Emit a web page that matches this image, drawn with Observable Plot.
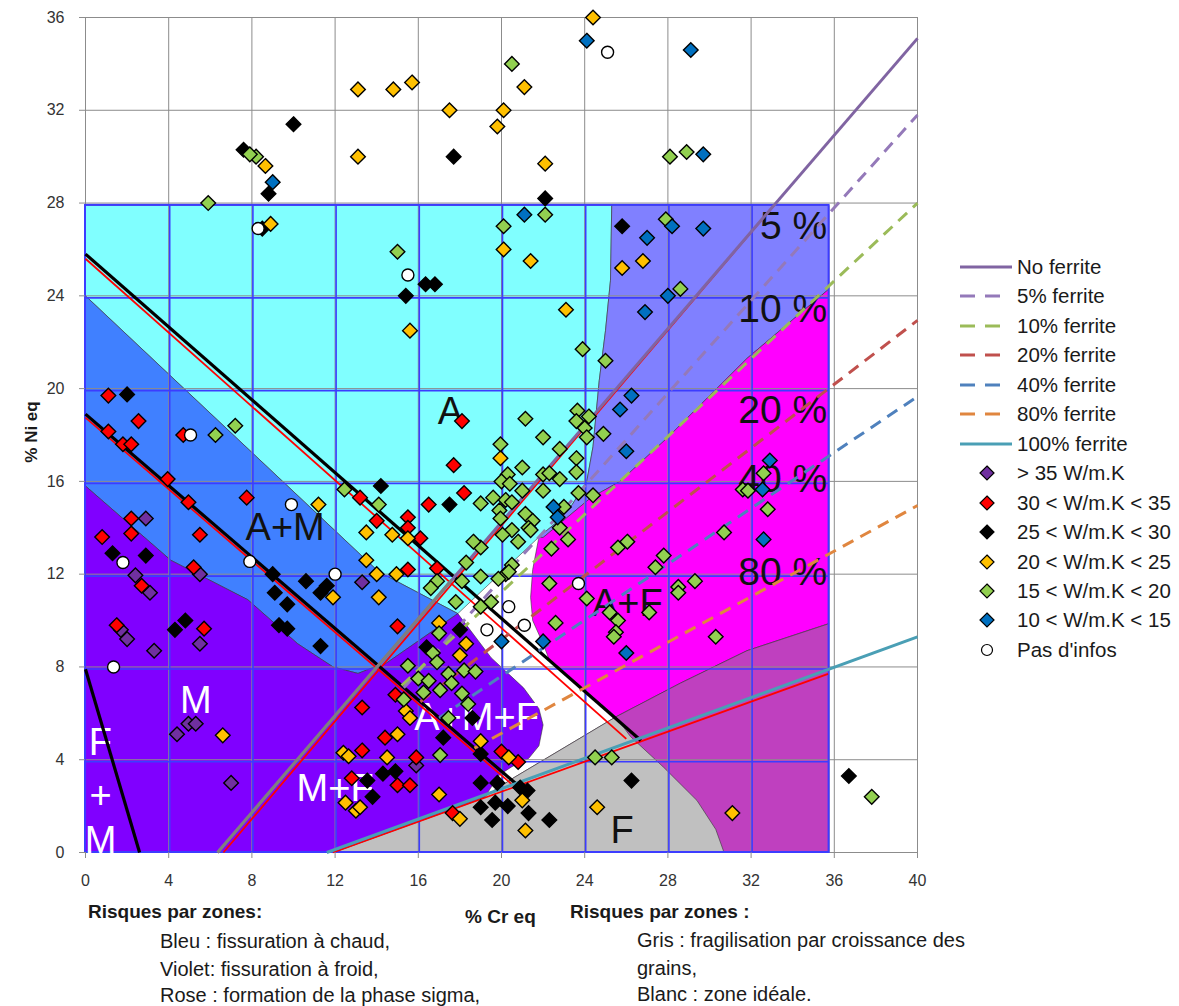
<!DOCTYPE html>
<html><head><meta charset="utf-8">
<script src="https://cdn.jsdelivr.net/npm/d3@7"></script>
<script src="https://cdn.jsdelivr.net/npm/@observablehq/plot@0.6"></script>
<style>
body{margin:0;background:#fff;font-family:"Liberation Sans",Arial,sans-serif;color:#1a1a1a;}
#wrap{position:relative;width:1179px;height:1006px;overflow:hidden;}
#wrap svg{position:absolute;left:0;top:0;}
.t{position:absolute;white-space:nowrap;font-size:20px;line-height:20px;}
.b{font-weight:bold;}
</style></head><body><div id="wrap"></div>
<script>
// ---------- axes ----------
const xTicks = [0,4,8,12,16,20,24,28,32,36,40];
const yTicks = [0,4,8,12,16,20,24,28,32,36];
const boxXTicks = [4,8,12,16,20,24,28,32];
const boxYTicks = [4,8,12,16,20,24];
const boxRight = 35.75, boxTop = 27.9;

// ---------- zones (polygons, % Cr eq / % Ni eq) ----------
const cyanZone = [[0,27.9],[25.3,27.9],[25.24,24.67],[25.0,22.5],[24.7,20.35],[24.4,17.5],[24.1,16.0],[23.4,15.0],[22.6,14.2],[21.8,13.6],[17.9,10.3],[14.1,12.1],[0,24]];
const lilacZone = [[25.3,27.9],[35.75,27.9],[35.75,24.3],[31.8,21.3],[28.0,17.9],[25.7,16.0],[24.3,15.3],[22.0,13.58],[21.8,13.6],[22.6,14.2],[23.4,15.0],[24.1,16.0],[24.4,17.5],[24.7,20.35],[25.0,22.5],[25.24,24.67]];
const magentaZone = [[21.8,13.6],[22.0,13.58],[24.3,15.3],[25.7,16.0],[28.0,17.9],[31.8,21.3],[35.75,24.3],[35.75,9.87],[31.8,8.7],[28.6,7.3],[25.5,5.85],[22.3,8.3],[22.0,9.0],[21.5,10.0],[21.4,11.0],[21.5,12.2]];
const mauveZone = [[19.0,2.3],[20.6,3.23],[25.5,5.85],[28.6,7.3],[31.8,8.7],[35.75,9.87],[35.75,0],[19.0,0]];
const grayZone = [[11.9,0],[19.0,2.3],[20.6,3.23],[25.5,5.85],[26.2,5.0],[27.8,3.67],[29.4,2.24],[30.3,1.0],[30.7,0]];
const blueZone = [[0,24],[14.1,12.1],[17.9,10.3],[14.2,8.0],[13.85,7.98],[13.1,7.72],[11.9,8.0],[10.2,9.0],[7.8,10.9],[4.1,12.6],[0,15.8]];
const violetZone = [[0,0],[0,15.8],[4.1,12.6],[7.8,10.9],[10.2,9.0],[11.9,8.0],[13.1,7.72],[13.85,7.98],[14.2,8.0],[17.9,10.3],[19.5,8.4],[21.06,7.1],[21.8,6.2],[22.0,5.5],[21.8,4.6],[21.3,4.05],[20.5,3.7],[19.9,3.35],[19.2,2.4],[11.9,0]];

// ---------- lines ----------
const blackLines = [{x1:0,y1:25.8,x2:26.7,y2:4.83},{x1:0,y1:18.9,x2:21.3,y2:2.5},{x1:0,y1:7.9,x2:2.6,y2:0}];
const redLines = [{x1:0,y1:25.6,x2:26.0,y2:4.9},{x1:0,y1:18.75,x2:21.2,y2:2.4},{x1:6.63,y1:0,x2:33.1,y2:27.9},{x1:11.9,y1:0,x2:35.7,y2:7.7}];
const greyLines = [{x1:6.35,y1:0,x2:17.6,y2:11.75}];
const ferriteNames = ["No ferrite","5% ferrite","10% ferrite","20% ferrite","40% ferrite","80% ferrite","100% ferrite"];
const ferriteX1 = [6.35,15.3,15.2,16.1,17.0,18.7,11.6];
const ferriteY1 = [0,7.1,7.2,6.5,5.8,4.5,0];
const ferriteX2 = [40,40,40,40,40,40,40];
const ferriteY2 = [35.1,31.8,28.0,22.94,19.66,14.96,9.3];

// ---------- points ----------
const seriesNames = ["> 35 W/m.K","30 < W/m.K < 35","25 < W/m.K < 30","20 < W/m.K < 25","15 < W/m.K < 20","10 < W/m.K < 15","Pas d'infos"];
const purplePts = [[2.9,14.4],[2.4,11.95],[3.1,11.2],[2.0,9.2],[3.3,8.7],[5.5,9.0],[5.5,12.0],[4.4,5.1],[4.95,5.55],[5.3,5.55],[7.0,3.0],[13.3,11.65],[15.9,3.75],[1.7,9.6]];
const redPts = [[1.1,19.7],[2.55,18.6],[1.1,18.15],[1.8,17.6],[2.2,17.6],[4.7,18.0],[3.95,16.1],[4.95,15.1],[7.75,15.3],[2.2,14.4],[2.2,13.75],[0.8,13.6],[5.5,13.7],[5.2,12.3],[2.7,11.5],[1.5,9.8],[5.7,9.65],
 [13.2,15.3],[14.0,14.3],[15.5,14.45],[15.5,14.0],[16.1,13.55],[15.5,12.2],[16.9,12.25],[16.5,15.0],[18.2,15.5],[17.7,16.7],[18.1,18.6],[15.0,9.75],[13.3,6.25],[14.9,6.8],[14.4,4.95],[13.3,4.4],[15.9,4.1],[12.8,3.2],[15.0,2.9],[15.6,2.9],[17.65,1.7],[20.0,4.35],[20.8,3.9]];
const blackPts = [[10.0,31.4],[7.6,30.3],[17.7,30.0],[8.8,28.4],[22.1,28.2],[8.5,26.9],[25.8,27.0],[16.35,24.5],[16.8,24.5],[15.4,24.0],[2.0,19.75],[14.2,15.8],[17.5,15.0],[1.3,12.9],[2.9,12.8],[9.0,12.0],[10.6,11.7],[9.1,11.2],[11.3,11.2],[11.6,11.5],[9.7,10.7],[9.3,9.8],[9.7,9.65],[11.3,8.9],[4.3,9.6],[4.8,10.0],[18.0,9.6],[16.4,8.85],[18.6,5.8],[17.2,4.95],[19.0,4.25],[14.3,3.4],[14.9,3.5],[13.55,3.1],[13.8,2.4],[19.0,3.0],[19.8,3.0],[19.7,2.15],[19.0,1.95],[19.55,1.4],[20.9,2.8],[21.25,2.67],[20.3,2.0],[21.3,1.7],[22.3,1.4],[26.25,3.1],[36.7,3.3]];
const orangePts = [[13.1,32.9],[14.8,32.9],[15.7,33.2],[17.5,32.0],[19.8,31.3],[20.1,32.0],[21.1,33.0],[24.4,36.0],[13.1,30.0],[22.1,29.7],[8.65,29.6],[8.9,27.1],
 [20.1,26.0],[21.4,25.5],[25.8,25.2],[26.8,25.5],[15.6,22.5],[23.1,23.4],[11.2,15.0],[19.95,17.0],[13.5,13.8],[14.75,13.7],[15.5,13.55],[13.5,12.6],[14.0,12.0],[14.95,12.0],[11.9,11.0],[14.1,11.0],[17.0,9.9],[18.3,9.0],[18.0,8.5],[15.4,6.1],[15.6,5.8],[15.0,5.1],[19.0,4.8],[12.4,4.3],[12.65,4.15],[14.5,4.1],[17.0,2.5],[12.5,2.15],[13.0,1.8],[13.2,1.95],[18.0,1.45],[20.35,4.1],[21.0,2.25],[21.15,0.95],[24.6,1.95],[31.1,1.7],[6.6,5.05]];
const greenPts = [[8.2,30.0],[7.9,30.1],[5.9,28.0],[20.5,34.0],[28.1,30.0],[28.9,30.2],
 [22.1,27.5],[20.1,27.0],[27.9,27.3],[28.6,24.3],[15.0,25.9],[23.9,21.7],[25.0,21.2],[6.25,18.0],[7.2,18.4],[12.45,15.65],[14.1,15.0],[21.15,18.7],[19.95,17.6],[22.0,17.9],
 [23.65,19.05],[24.2,18.8],[23.6,18.6],[24.0,18.3],[24.1,17.9],[24.9,18.05],[22.8,17.4],[23.6,17.0],[23.6,16.4],[22.8,16.1],[22.0,16.3],[22.3,16.35],[21.0,16.6],[20.3,16.3],[20.0,16.0],[20.4,15.9],[21.0,15.6],[22.0,15.6],[23.7,15.5],[24.4,15.4],
 [19.6,15.3],[20.2,15.2],[20.5,15.1],[19.0,15.05],[19.9,14.75],[19.95,14.4],[21.15,14.6],[21.5,14.3],[21.3,14.0],[23.0,14.9],[22.8,14.0],[20.5,13.9],[20.8,13.4],[20.05,13.7],[19.0,13.15],[23.2,13.5],[22.4,13.1],[20.5,12.4],[20.2,12.0],
 [18.65,13.4],[18.3,12.5],[19.0,11.9],[18.1,11.7],[16.9,11.7],[16.6,11.4],[17.8,10.8],[19.0,10.6],[19.5,10.8],[19.85,11.8],[20.35,12.1],[21.4,13.9],[22.3,11.6],[22.6,9.9],[24.1,10.95],[25.2,10.35],[25.6,10.0],[25.5,9.5],[25.4,9.3],[27.1,10.35],[28.5,11.45],[28.5,11.2],[29.3,11.7],[30.3,9.3],[27.4,12.3],[27.8,12.8],[25.6,13.15],[26.05,13.4],[30.7,13.8],[32.6,16.35],[31.6,15.65],[31.85,15.6],[32.8,14.8],
 [17.0,9.45],[16.7,8.6],[15.5,8.05],[16.0,7.5],[16.9,8.2],[17.45,7.7],[18.2,7.85],[18.75,7.8],[16.5,7.4],[17.05,7.0],[16.25,6.9],[17.6,7.3],[18.1,6.85],[18.4,6.4],[15.3,6.6],[17.45,5.8],[17.05,4.2],[24.5,4.1],[25.3,4.1],[37.8,2.4]];
const bluePts = [[9.0,28.9],[24.1,35.0],[29.1,34.6],[29.7,30.1],[21.1,27.5],[28.2,27.0],[29.7,26.9],[27.0,26.5],[28.0,24.0],[26.9,23.3],[26.25,19.7],[25.7,19.1],[26.0,17.3],[32.9,16.9],[32.55,15.65],[32.6,13.5],[22.5,14.9],[22.7,14.45],[20.0,9.1],[22.0,9.1],[26.0,8.6]];
const whitePts = [[25.1,34.5],[8.3,26.9],[15.5,24.9],[5.05,18.0],[9.9,15.0],[1.8,12.5],[7.9,12.55],[12.0,12.0],[1.35,8.0],[20.35,10.6],[19.3,9.6],[21.1,9.8],[23.7,11.6]];

// ---------- labels ----------
const darkLabels = [{t:"A",x:17.55,y:19.0},{t:"A+M",x:9.6,y:14.0},{t:"F",x:25.8,y:0.95},{t:"A+F",x:26.05,y:10.74}];
const lightLabels = [{t:"M",x:5.3,y:6.55},{t:"F",x:0.72,y:4.74},{t:"+",x:0.72,y:2.46},{t:"M",x:0.72,y:0.52},{t:"M+F",x:12.0,y:2.75},{t:"A+M+F",x:18.8,y:5.8}];
const pctLabels = [{t:"5 %",y:27.0},{t:"10 %",y:23.4},{t:"20 %",y:19.06},{t:"40 %",y:16.1},{t:"80 %",y:12.07}];

// ---------- styles ----------
const ferriteColors = ["#8064a2","#9479b9","#9bbb59","#c0504d","#4f81bd","#e0863f","#4a9fb5"];
const ferriteDashed = [false,true,true,true,true,true,false];
const seriesColors = ["#7030a0","#ff0000","#000000","#ffc000","#92d050","#0070c0","#ffffff"];
const seriesPts = [purplePts,redPts,blackPts,orangePts,greenPts,bluePts,whitePts];

const toXY = a => a.map(([x,y]) => ({x,y}));
const closed = a => toXY(a.concat([a[0]]));
const zone = (pts, color) => Plot.line(closed(pts), {x:"x", y:"y", fill:color, stroke:"#333", strokeWidth:0.8, strokeOpacity:0.75});

const ferriteSegs = ferriteNames.map((n,i) => ({n, x1:ferriteX1[i], y1:ferriteY1[i], x2:ferriteX2[i], y2:ferriteY2[i]}));
const seg = {x1:"x1",y1:"y1",x2:"x2",y2:"y2"};

const marks = [
  zone(cyanZone, "#80ffff"),
  zone(lilacZone, "#8080ff"),
  zone(magentaZone, "#ff00ff"),
  zone(mauveZone, "#bf40bf"),
  zone(grayZone, "#c0c0c0"),
  zone(blueZone, "#4080ff"),
  zone(violetZone, "#8000ff"),
  Plot.ruleX(xTicks, {stroke:"#8c8c8c", strokeWidth:1}),
  Plot.ruleY(yTicks, {stroke:"#8c8c8c", strokeWidth:1}),
  Plot.ruleX(boxXTicks, {y1:0, y2:boxTop, stroke:"#3c3cff", strokeWidth:1.6, dx:1}),
  Plot.ruleY(boxYTicks, {x1:0, x2:boxRight, stroke:"#3c3cff", strokeWidth:1.6, dy:2}),
  Plot.rect([{x1:0,x2:boxRight,y1:0,y2:boxTop}], {...seg, fill:"none", stroke:"#3c3cff", strokeWidth:2}),
  Plot.text(darkLabels, {x:"x", y:"y", text:"t", fill:"#111", fontSize:38}),
  Plot.text(lightLabels, {x:"x", y:"y", text:"t", fill:"#fff", fontSize:38}),
  Plot.text(pctLabels, {x:()=>boxRight, y:"y", text:"t", fill:"#111", fontSize:39, textAnchor:"end", dx:-2}),
  Plot.link(redLines, {...seg, stroke:"#ff0000", strokeWidth:1.8}),
  Plot.link(blackLines, {...seg, stroke:"#000", strokeWidth:3.2}),
  ...ferriteSegs.map((s,i) => Plot.link([s], {...seg, stroke:ferriteColors[i], strokeWidth:3, strokeDasharray: ferriteDashed[i] ? "12,8" : null})),
  Plot.link(greyLines, {...seg, stroke:"#7f7f7f", strokeWidth:3}),
  ...seriesPts.slice(0,6).map((pts,i) => Plot.dot(toXY(pts), {x:"x", y:"y", symbol:"diamond2", r:6.6, fill:seriesColors[i], stroke:"#000", strokeWidth:1.4})),
  Plot.dot(toXY(whitePts), {x:"x", y:"y", r:6, fill:"#fff", stroke:"#000", strokeWidth:1.4}),
  Plot.axisX({ticks:xTicks, tickSize:6, tickPadding:16, stroke:"#8c8c8c", fill:"#333", fontSize:16, label:null}),
  Plot.axisY({ticks:yTicks, tickSize:6, tickPadding:15, stroke:"#8c8c8c", fill:"#333", fontSize:16, label:null})
];

const chart = Plot.plot({
  width:1179, height:900,
  marginLeft:85, marginRight:262, marginTop:17, marginBottom:48,
  x:{domain:[0,40]}, y:{domain:[0,36]},
  style:{fontFamily:"Liberation Sans, Arial, sans-serif", fontSize:"16px", background:"transparent", overflow:"visible"},
  marks
});
const wrap = document.getElementById("wrap");
wrap.appendChild(chart);

// ---------- HTML texts ----------
function addText(txt, left, top, cls, extra) {
  const d = document.createElement("div");
  d.className = "t " + (cls||"");
  d.textContent = txt;
  d.style.left = left + "px"; d.style.top = top + "px";
  if (extra) Object.assign(d.style, extra);
  wrap.appendChild(d);
  return d;
}
addText("Risques par zones:", 88, 902, "b", {fontSize:"19px"});
addText("% Cr eq", 465, 907, "b", {fontSize:"19px"});
addText("Risques par zones :", 570, 902, "b", {fontSize:"19px"});
addText("Bleu : fissuration à chaud,", 160, 931);
addText("Violet: fissuration à froid,", 160, 959);
addText("Rose : formation de la phase sigma,", 160, 985);
addText("Gris : fragilisation par croissance des", 637, 930);
addText("grains,", 637, 958);
addText("Blanc : zone idéale.", 637, 984);
addText("% Ni eq", 0, 422, "b", {fontSize:"17px", transform:"rotate(-90deg)", transformOrigin:"center", left:"-3px", width:"70px", textAlign:"center"});

// ---------- legend ----------
const rowY = i => 267 + 29.45*i;
ferriteNames.forEach((n,i) => {
  const y = rowY(i);
  const s = document.createElementNS("http://www.w3.org/2000/svg","svg");
  s.setAttribute("width","60"); s.setAttribute("height","10");
  s.style.position="absolute"; s.style.left="958px"; s.style.top=(y-5)+"px";
  const l = document.createElementNS("http://www.w3.org/2000/svg","line");
  l.setAttribute("x1", "2"); l.setAttribute("y1","5"); l.setAttribute("y2","5");
  l.setAttribute("x2", ferriteDashed[i] ? "42" : "54");
  l.setAttribute("stroke", ferriteColors[i]); l.setAttribute("stroke-width","3");
  if (ferriteDashed[i]) l.setAttribute("stroke-dasharray","15,10");
  s.appendChild(l); wrap.appendChild(s);
  addText(n, 1017, y-10, "", {fontSize:"20.5px"});
});
seriesNames.forEach((n,i) => {
  const y = rowY(i+7);
  const s = document.createElementNS("http://www.w3.org/2000/svg","svg");
  s.setAttribute("width","20"); s.setAttribute("height","20");
  s.style.position="absolute"; s.style.left="977px"; s.style.top=(y-10)+"px";
  let sh;
  if (i < 6) {
    sh = document.createElementNS("http://www.w3.org/2000/svg","polygon");
    sh.setAttribute("points","10,3 17,10 10,17 3,10");
  } else {
    sh = document.createElementNS("http://www.w3.org/2000/svg","circle");
    sh.setAttribute("cx","10"); sh.setAttribute("cy","10"); sh.setAttribute("r","5.5");
  }
  sh.setAttribute("fill", seriesColors[i]); sh.setAttribute("stroke","#000"); sh.setAttribute("stroke-width","1.2");
  s.appendChild(sh); wrap.appendChild(s);
  addText(n, 1017, y-10, "", {fontSize:"20.5px"});
});
</script></body></html>
